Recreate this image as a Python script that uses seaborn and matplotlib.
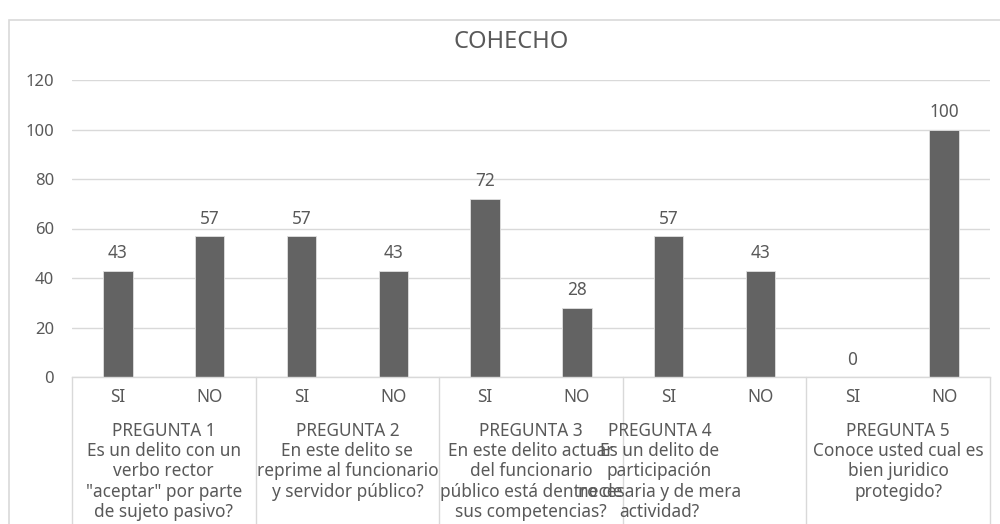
import matplotlib
matplotlib.use("Agg")
import matplotlib.pyplot as plt
import matplotlib.transforms as mtransforms
from matplotlib.patches import Rectangle
import pandas as pd
import seaborn as sns

# datos
preguntas = ["PREGUNTA 1", "PREGUNTA 2", "PREGUNTA 3", "PREGUNTA 4", "PREGUNTA 5"]
enunciados = [
    "Es un delito con un\nverbo rector\n\"aceptar\" por parte\nde sujeto pasivo?",
    "En este delito se\nreprime al funcionario\ny servidor público?",
    "En este delito actuar\ndel funcionario\npúblico está dentro de\nsus competencias?",
    "Es un delito de\nparticipación\nnecesaria y de mera\nactividad?",
    "Conoce usted cual es\nbien juridico\nprotegido?",
]
respuestas = ["SI", "NO"]
valores_si = [43, 57, 72, 57, 0]
valores_no = [57, 43, 28, 43, 100]

GRIS_TXT = "#595959"
GRIS_LIN = "#d9d9d9"
BARRA = "#636363"

filas = []
for i, p in enumerate(preguntas):
    for r, v in zip(respuestas, [valores_si[i], valores_no[i]]):
        filas.append({"barra": f"{p}-{r}", "resp": r, "valor": v})
df = pd.DataFrame(filas)

sns.set_style("white")
plt.rcParams["font.family"] = ["Noto Sans", "DejaVu Sans"]

fig = plt.figure(figsize=(10, 5.24), dpi=100)
ax = fig.add_axes([0.072, 1 - 377 / 524, 0.918, (377 - 80) / 524])

sns.barplot(data=df, x="barra", y="valor", color=BARRA, width=0.32,
            edgecolor="#e0e0e0", linewidth=0.6, saturation=1, ax=ax)

ax.set_ylim(0, 120)
ax.set_xlim(-0.5, len(df) - 0.5)
ax.set_yticks(range(0, 121, 20))
ax.yaxis.grid(True, color=GRIS_LIN, linewidth=1)
ax.set_axisbelow(True)
ax.tick_params(axis="y", length=0, pad=13, labelsize=12, labelcolor=GRIS_TXT)
ax.set_xticks([])
ax.set_xlabel("")
ax.set_ylabel("")
for s in ["top", "right", "left"]:
    ax.spines[s].set_visible(False)
ax.spines["bottom"].set_color(GRIS_LIN)
ax.spines["bottom"].set_linewidth(1)

ax.bar_label(ax.containers[0], padding=6, fontsize=12.4, color=GRIS_TXT)

fig.text(0.511, 1 - 42 / 524, "COHECHO", ha="center", va="center",
         fontsize=17, color=GRIS_TXT)

# ejes multinivel (SI/NO + pregunta)
alto = (377 - 80)
def yp(px):
    return -px / alto

trans = mtransforms.blended_transform_factory(ax.transData, ax.transAxes)
for k, r in enumerate(df["resp"]):
    ax.text(k, yp(20), r, transform=trans, ha="center", va="center",
            fontsize=12.4, color=GRIS_TXT)

desplaz = [0, 0, 0, -0.6, 0]
for i, (p, e) in enumerate(zip(preguntas, enunciados)):
    xc = 2 * i + 0.5 + desplaz[i]
    ax.text(xc, yp(45), p + "\n" + e, transform=trans, ha="center", va="top",
            fontsize=12.4, color=GRIS_TXT, linespacing=1.16)

for b in range(len(preguntas) + 1):
    ax.plot([2 * b - 0.5, 2 * b - 0.5], [0, yp(150)], transform=trans,
            color=GRIS_LIN, linewidth=1, clip_on=False)

# marco del grafico
fig.patches.append(Rectangle((0.009, -0.2), 1.2, 1.2 - 20 / 524, transform=fig.transFigure,
                             fill=False, edgecolor=GRIS_LIN, linewidth=1.2))

fig.savefig("out.png", dpi=100)
